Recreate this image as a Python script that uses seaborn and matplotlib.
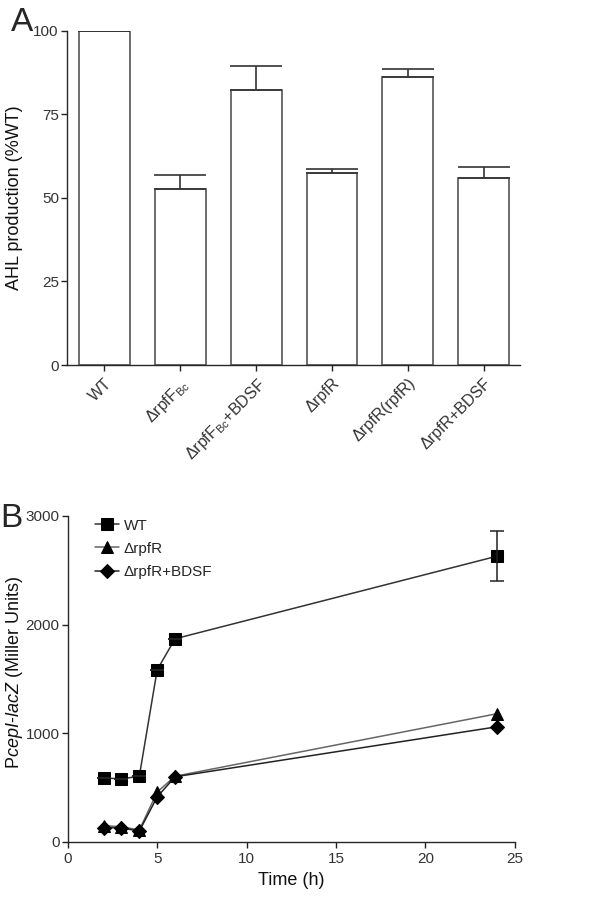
import numpy as np
import pandas as pd
import matplotlib
matplotlib.use("Agg")
import matplotlib.pyplot as plt
import seaborn as sns

# Panel A data
strains = ["WT", "ΔrpfF$_{\\mathrm{Bc}}$", "ΔrpfF$_{\\mathrm{Bc}}$+BDSF",
           "ΔrpfR", "ΔrpfR(rpfR)", "ΔrpfR+BDSF"]
ahl_mean = [100, 52.6, 82.4, 57.5, 86.3, 55.9]
ahl_err = [0, 4.4, 7.0, 1.3, 2.2, 3.3]

# Panel B data
time_h = [2, 3, 4, 5, 6, 24]
wt_units = [590, 580, 605, 1585, 1870, 2630]
wt_err = [0, 0, 0, 0, 0, 230]
rpfr_units = [150, 140, 110, 460, 605, 1180]
rpfr_bdsf_units = [130, 130, 100, 415, 600, 1060]

sns.set_theme(style="ticks")
plt.rcParams.update({
    "font.family": ["Liberation Sans", "DejaVu Sans"],
    "mathtext.fontset": "custom",
    "mathtext.rm": "Liberation Sans",
    "mathtext.it": "Liberation Sans:italic",
    "axes.linewidth": 1.0,
    "xtick.major.size": 4,
    "ytick.major.size": 4,
    "xtick.major.width": 1.0,
    "ytick.major.width": 1.0,
    "ytick.major.pad": 2,
    "xtick.color": "#222222",
    "ytick.color": "#222222",
    "xtick.labelcolor": "#333333",
    "ytick.labelcolor": "#333333",
})

fig = plt.figure(figsize=(6, 8.98), dpi=100)
axA = fig.add_axes([0.112, 0.5935, 0.755, 0.3722])
axB = fig.add_axes([0.113, 0.0624, 0.745, 0.363])

# ---- Panel A
dfA = pd.DataFrame({"strain": strains, "ahl": ahl_mean})
sns.barplot(data=dfA, x="strain", y="ahl", ax=axA, color="white",
            edgecolor="#555555", linewidth=1.2, width=0.67)
xpos = np.arange(len(strains))
axA.errorbar(xpos, ahl_mean, yerr=[np.zeros(len(ahl_err)), ahl_err],
             fmt="none", ecolor="#333333", elinewidth=1.2, capsize=19,
             capthick=1.2)
axA.set_xlim(-0.49, 5.48)
axA.set_ylim(0, 100)
axA.set_yticks([0, 25, 50, 75, 100])
axA.set_xlabel("")
axA.set_ylabel("AHL production (%WT)", fontsize=13, color="#111111")
axA.yaxis.set_label_coords(-0.097, 0.5)
axA.set_xticks(xpos)
axA.set_xticklabels(strains, rotation=45, ha="right", rotation_mode="anchor",
                    fontsize=11.5)
axA.tick_params(axis="y", labelsize=11)
sns.despine(ax=axA)
fig.text(0.018, 0.975, "A", fontsize=24, va="center", ha="left")

# ---- Panel B
series = [
    ("WT", wt_units, "s", "#333333", 8),
    ("ΔrpfR", rpfr_units, "^", "#666666", 9),
    ("ΔrpfR+BDSF", rpfr_bdsf_units, "D", "#222222", 7),
]
for name, vals, mk, lc, ms in series:
    sns.lineplot(x=time_h, y=vals, ax=axB, color=lc, linewidth=1.1,
                 marker=mk, markersize=ms, markerfacecolor="black",
                 markeredgecolor="black", label=name)
axB.errorbar(time_h, wt_units, yerr=wt_err, fmt="none", ecolor="#222222",
             elinewidth=1.1, capsize=5, capthick=1.1)
axB.set_xlim(0, 25)
axB.set_ylim(0, 3000)
axB.set_xticks([0, 5, 10, 15, 20, 25])
axB.set_yticks([0, 1000, 2000, 3000])
axB.tick_params(labelsize=11)
axB.set_xlabel("Time (h)", fontsize=13, color="#111111")
axB.set_ylabel("P$\\it{cepI}$-$\\it{lacZ}$ (Miller Units)", fontsize=13,
               color="#111111")
axB.yaxis.set_label_coords(-0.096, 0.52)
axB.legend(loc="upper left", bbox_to_anchor=(0.04, 1.02), frameon=False,
           fontsize=11, handlelength=1.6, handletextpad=0.3,
           labelspacing=0.6, borderaxespad=0.2)
sns.despine(ax=axB)
fig.text(0.0, 0.423, "B", fontsize=24, va="center", ha="left")

fig.savefig("out.png", dpi=100)
